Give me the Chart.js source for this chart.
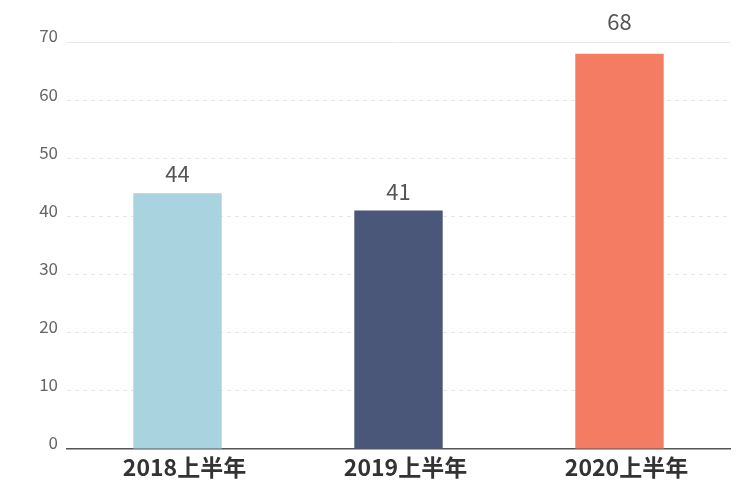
<!DOCTYPE html>
<html><head><meta charset="utf-8">
<script src="https://cdn.jsdelivr.net/npm/chart.js@4"></script>
<style>html,body{margin:0;padding:0;background:#fff}#wrap{width:753px;height:485px}</style>
</head><body><div id="wrap"><canvas id="c" width="753" height="485"></canvas></div>
<script>
const categories = ['2018上半年', '2019上半年', '2020上半年'];
const values = [44, 41, 68];
const barColors = ['#a8d3df', '#4a5779', '#f47c62'];
const yTicks = [0, 10, 20, 30, 40, 50, 60, 70];
const FONT = '"Noto Sans CJK SC", "Noto Sans", sans-serif';

const labelPlugin = {
  id: 'vlabels',
  afterDatasetsDraw(chart) {
    const ctx = chart.ctx;
    const meta = chart.getDatasetMeta(0);
    const top = chart.chartArea.top;
    ctx.save();
    ctx.font = '22px ' + FONT;
    ctx.fillStyle = '#555';
    ctx.textAlign = 'center';
    ctx.textBaseline = 'alphabetic';
    meta.data.forEach((bar, i) => {
      let y = bar.y - 11;
      if (y - 16 < top + 4 && y > top - 4) y = top - 12;
      ctx.fillText(String(values[i]), bar.x, y);
    });
    ctx.restore();
  }
};

new Chart(document.getElementById('c'), {
  type: 'bar',
  data: { labels: categories, datasets: [{ data: values, backgroundColor: barColors, categoryPercentage: 1, barPercentage: 0.4 }] },
  options: {
    responsive: false, animation: false,
    layout: { padding: { left: 0, right: 23, top: 42, bottom: 0 } },
    plugins: { legend: { display: false }, tooltip: { enabled: false } },
    scales: {
      x: {
        grid: { display: false },
        border: { display: true, color: '#555', width: 1.5 },
        ticks: { color: '#333', font: { family: FONT, size: 23, weight: 'bold' }, padding: -4, labelOffset: 7 },
        afterFit(s) { s.height = 36; }
      },
      y: {
        min: 0, max: 70,
        afterBuildTicks(s) { s.ticks = yTicks.map(v => ({ value: v })); },
        grid: {
          drawTicks: false,
          color: c => c.tick && c.tick.value === 0 ? 'rgba(0,0,0,0)' : '#e8e8e8',
          lineWidth: 1
        },
        border: { display: false, dash: c => (c.tick && c.tick.value === 70) ? [] : [4, 4] },
        ticks: { color: '#666', font: { family: FONT, size: 17 }, padding: 9, labelOffset: -6 },
        afterFit(s) { s.width = 67; }
      }
    }
  },
  plugins: [labelPlugin]
});
</script></body></html>
